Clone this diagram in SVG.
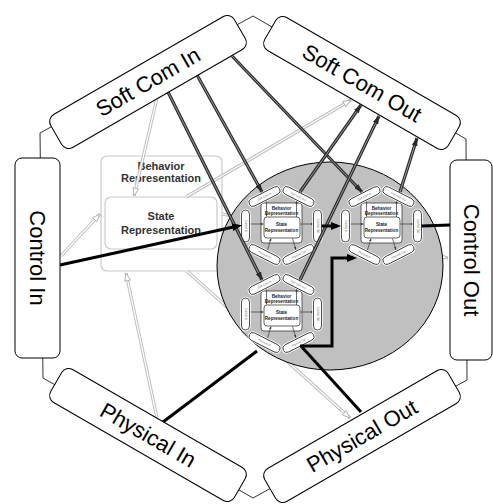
<svg xmlns="http://www.w3.org/2000/svg" width="493" height="504" viewBox="0 0 493 504">
<style>
  .hex{fill:none;stroke:#333;stroke-width:1}
  .box{fill:#fff;stroke:#000;stroke-width:1}
  .lbl{font-family:"Liberation Sans",Arial,sans-serif;font-size:22px;fill:#000;text-anchor:middle;dominant-baseline:central}
  .rep{fill:#fff;stroke:#cacaca;stroke-width:1.2}
  .reptxt{font-family:"Liberation Sans",Arial,sans-serif;font-size:11px;font-weight:bold;fill:#333;text-anchor:middle}
  .zone{fill:#c0c0c0;stroke:#000;stroke-width:1}
  .gw{fill:none;stroke:#bdbdbd;stroke-width:3.2}
  .gc{fill:none;stroke:#fff;stroke-width:1.2}
  .dw{fill:none;stroke:#2a2a2a;stroke-width:3.2}
  .dc{fill:none;stroke:#9a9a9a;stroke-width:1}
  .bk{fill:none;stroke:#000;stroke-width:3}
  .halo{fill:#fff;stroke:#fff;stroke-width:2.6}
  .pill{fill:#fff;stroke:#222;stroke-width:0.8}
  .mrep{fill:#fff;stroke:#222;stroke-width:0.7}
  .mtxt{font-family:"Liberation Sans",Arial,sans-serif;font-size:2.8px;fill:#666;text-anchor:middle;dominant-baseline:central}
  .mrt{font-family:"Liberation Sans",Arial,sans-serif;font-size:4.6px;font-weight:bold;fill:#222;text-anchor:middle}
  .marr{fill:none;stroke:#333;stroke-width:0.7}
</style>
<defs>
  <marker id="arrD" markerUnits="userSpaceOnUse" viewBox="0 0 8 6" markerWidth="8" markerHeight="6" refX="8" refY="3" orient="auto">
    <path d="M0,0 L8,3 L0,6 z" fill="#2a2a2a"/>
  </marker>
  <marker id="arrG" markerUnits="userSpaceOnUse" viewBox="0 0 9 7" markerWidth="9" markerHeight="7" refX="8.4" refY="3.5" orient="auto">
    <path d="M0.6,0.6 L8.4,3.5 L0.6,6.4 z" fill="#fff" stroke="#b0b0b0" stroke-width="0.9"/>
  </marker>
  <marker id="arrB" markerUnits="userSpaceOnUse" viewBox="0 0 10 8" markerWidth="10" markerHeight="8" refX="6" refY="4" orient="auto">
    <path d="M0,0 L10,4 L0,8 z" fill="#000"/>
  </marker>
  <marker id="am" markerUnits="userSpaceOnUse" viewBox="0 0 3 2.4" markerWidth="3" markerHeight="2.4" refX="3" refY="1.2" orient="auto">
    <path d="M0,0 L3,1.2 L0,2.4 z" fill="#333"/>
  </marker>
</defs>

<rect width="493" height="504" fill="#fff"/>

<!-- outer frame joining the six interface boxes -->
<polygon class="hex" points="253,16 466,139 467,380 253,498 43,378 40,133"/>

<!-- behaviour / state representation of the whole system -->
<g id="behavior-representation">
  <rect class="rep" x="101" y="156" width="121" height="115" rx="6"/>
  <text class="reptxt" x="161" y="169.5">Behavior</text>
  <text class="reptxt" x="161" y="182">Representation</text>
  <g id="state-representation">
    <rect class="rep" x="105" y="197" width="112" height="52" rx="6"/>
    <text class="reptxt" x="161" y="220">State</text>
    <text class="reptxt" x="161" y="233.5">Representation</text>
  </g>
</g>

<!-- light links of the top-level representation -->
<g id="connectors-representation">
  <path class="gw" d="M157,98 L134,196"/><path class="gc" d="M157,98 L134,196" marker-end="url(#arrG)"/>
  <path class="gw" d="M186,197 L351,100"/><path class="gc" d="M186,197 L351,100" marker-end="url(#arrG)"/>
  <path class="gw" d="M61,256 L100,214"/><path class="gc" d="M61,256 L100,214" marker-end="url(#arrG)"/>
  <path class="gw" d="M157,418 L126,273"/><path class="gc" d="M157,418 L126,273" marker-end="url(#arrG)"/>
  <path class="gw" d="M187,271 L350,418"/><path class="gc" d="M187,271 L350,418" marker-end="url(#arrG)"/>
  <path class="gw" d="M222,214 L448,258"/><path class="gc" d="M222,214 L448,258" marker-end="url(#arrG)"/>
</g>

<!-- composition zone -->
<ellipse id="composition" class="zone" cx="330" cy="266" rx="113" ry="104"/>

<!-- sub-system A -->
<g id="module-a" transform="translate(281.5,227)">
  <rect class="mrep" x="-20.5" y="-24" width="41" height="40" rx="3"/>
  <text class="mrt" y="-17">Behavior</text>
  <text class="mrt" y="-12">Representation</text>
  <rect class="mrep" x="-17.5" y="-10" width="36" height="21" rx="3"/>
  <text class="mrt" y="-1">State</text>
  <text class="mrt" y="4.5">Representation</text>
  <path class="marr" d="M-15,-27 V-10.5" marker-end="url(#am)"/>
  <path class="marr" d="M15,-10 V-26.5" marker-end="url(#am)"/>
  <path class="marr" d="M-32,-3 H-18" marker-end="url(#am)"/>
  <path class="marr" d="M18.5,-3 H32" marker-end="url(#am)"/>
  <path class="marr" d="M-14,23 L-10.5,11.5" marker-end="url(#am)"/>
  <path class="marr" d="M11,11.5 L14.5,23" marker-end="url(#am)"/>
  <g transform="translate(-17,-30.5) rotate(-27)"><rect class="halo" x="-17" y="-4" width="34" height="8" rx="4"/><rect class="pill" x="-17" y="-4" width="34" height="8" rx="4"/><text class="mtxt">Soft Com In</text></g>
  <g transform="translate(17,-30.5) rotate(27)"><rect class="halo" x="-17" y="-4" width="34" height="8" rx="4"/><rect class="pill" x="-17" y="-4" width="34" height="8" rx="4"/><text class="mtxt">Soft Com Out</text></g>
  <g transform="translate(-36,-1) rotate(90)"><rect class="halo" x="-16" y="-4" width="32" height="8" rx="4"/><rect class="pill" x="-16" y="-4" width="32" height="8" rx="4"/><text class="mtxt">Control In</text></g>
  <g transform="translate(36,-1) rotate(90)"><rect class="halo" x="-16" y="-4" width="32" height="8" rx="4"/><rect class="pill" x="-16" y="-4" width="32" height="8" rx="4"/><text class="mtxt">Control Out</text></g>
  <g transform="translate(-17,27.5) rotate(27)"><rect class="halo" x="-17" y="-4" width="34" height="8" rx="4"/><rect class="pill" x="-17" y="-4" width="34" height="8" rx="4"/><text class="mtxt">Physical In</text></g>
  <g transform="translate(17,27.5) rotate(-27)"><rect class="halo" x="-17" y="-4" width="34" height="8" rx="4"/><rect class="pill" x="-17" y="-4" width="34" height="8" rx="4"/><text class="mtxt">Physical Out</text></g>
</g>

<!-- sub-system B -->
<g id="module-b" transform="translate(381.5,227)">
  <rect class="mrep" x="-20.5" y="-24" width="41" height="40" rx="3"/>
  <text class="mrt" y="-17">Behavior</text>
  <text class="mrt" y="-12">Representation</text>
  <rect class="mrep" x="-17.5" y="-10" width="36" height="21" rx="3"/>
  <text class="mrt" y="-1">State</text>
  <text class="mrt" y="4.5">Representation</text>
  <path class="marr" d="M-15,-27 V-10.5" marker-end="url(#am)"/>
  <path class="marr" d="M15,-10 V-26.5" marker-end="url(#am)"/>
  <path class="marr" d="M-32,-3 H-18" marker-end="url(#am)"/>
  <path class="marr" d="M18.5,-3 H32" marker-end="url(#am)"/>
  <path class="marr" d="M-14,23 L-10.5,11.5" marker-end="url(#am)"/>
  <path class="marr" d="M11,11.5 L14.5,23" marker-end="url(#am)"/>
  <g transform="translate(-17,-30.5) rotate(-27)"><rect class="halo" x="-17" y="-4" width="34" height="8" rx="4"/><rect class="pill" x="-17" y="-4" width="34" height="8" rx="4"/><text class="mtxt">Soft Com In</text></g>
  <g transform="translate(17,-30.5) rotate(27)"><rect class="halo" x="-17" y="-4" width="34" height="8" rx="4"/><rect class="pill" x="-17" y="-4" width="34" height="8" rx="4"/><text class="mtxt">Soft Com Out</text></g>
  <g transform="translate(-36,-1) rotate(90)"><rect class="halo" x="-16" y="-4" width="32" height="8" rx="4"/><rect class="pill" x="-16" y="-4" width="32" height="8" rx="4"/><text class="mtxt">Control In</text></g>
  <g transform="translate(36,-1) rotate(90)"><rect class="halo" x="-16" y="-4" width="32" height="8" rx="4"/><rect class="pill" x="-16" y="-4" width="32" height="8" rx="4"/><text class="mtxt">Control Out</text></g>
  <g transform="translate(-17,27.5) rotate(27)"><rect class="halo" x="-17" y="-4" width="34" height="8" rx="4"/><rect class="pill" x="-17" y="-4" width="34" height="8" rx="4"/><text class="mtxt">Physical In</text></g>
  <g transform="translate(17,27.5) rotate(-27)"><rect class="halo" x="-17" y="-4" width="34" height="8" rx="4"/><rect class="pill" x="-17" y="-4" width="34" height="8" rx="4"/><text class="mtxt">Physical Out</text></g>
</g>

<!-- sub-system C -->
<g id="module-c" transform="translate(281.5,315)">
  <rect class="mrep" x="-20.5" y="-24" width="41" height="40" rx="3"/>
  <text class="mrt" y="-17">Behavior</text>
  <text class="mrt" y="-12">Representation</text>
  <rect class="mrep" x="-17.5" y="-10" width="36" height="21" rx="3"/>
  <text class="mrt" y="-1">State</text>
  <text class="mrt" y="4.5">Representation</text>
  <path class="marr" d="M-15,-27 V-10.5" marker-end="url(#am)"/>
  <path class="marr" d="M15,-10 V-26.5" marker-end="url(#am)"/>
  <path class="marr" d="M-32,-3 H-18" marker-end="url(#am)"/>
  <path class="marr" d="M18.5,-3 H32" marker-end="url(#am)"/>
  <path class="marr" d="M-14,23 L-10.5,11.5" marker-end="url(#am)"/>
  <path class="marr" d="M11,11.5 L14.5,23" marker-end="url(#am)"/>
  <g transform="translate(-17,-30.5) rotate(-27)"><rect class="halo" x="-17" y="-4" width="34" height="8" rx="4"/><rect class="pill" x="-17" y="-4" width="34" height="8" rx="4"/><text class="mtxt">Soft Com In</text></g>
  <g transform="translate(17,-30.5) rotate(27)"><rect class="halo" x="-17" y="-4" width="34" height="8" rx="4"/><rect class="pill" x="-17" y="-4" width="34" height="8" rx="4"/><text class="mtxt">Soft Com Out</text></g>
  <g transform="translate(-36,-1) rotate(90)"><rect class="halo" x="-16" y="-4" width="32" height="8" rx="4"/><rect class="pill" x="-16" y="-4" width="32" height="8" rx="4"/><text class="mtxt">Control In</text></g>
  <g transform="translate(36,-1) rotate(90)"><rect class="halo" x="-16" y="-4" width="32" height="8" rx="4"/><rect class="pill" x="-16" y="-4" width="32" height="8" rx="4"/><text class="mtxt">Control Out</text></g>
  <g transform="translate(-17,27.5) rotate(27)"><rect class="halo" x="-17" y="-4" width="34" height="8" rx="4"/><rect class="pill" x="-17" y="-4" width="34" height="8" rx="4"/><text class="mtxt">Physical In</text></g>
  <g transform="translate(17,27.5) rotate(-27)"><rect class="halo" x="-17" y="-4" width="34" height="8" rx="4"/><rect class="pill" x="-17" y="-4" width="34" height="8" rx="4"/><text class="mtxt">Physical Out</text></g>
</g>

<!-- message and signal links -->
<g id="connectors">
  <path class="dw" d="M168,92 L262,280"/><path class="dc" d="M168,92 L262,280" marker-end="url(#arrD)"/>
  <path class="dw" d="M197,75 L262,192"/><path class="dc" d="M197,75 L262,192" marker-end="url(#arrD)"/>
  <path class="dw" d="M232,56 L362,192"/><path class="dc" d="M232,56 L362,192" marker-end="url(#arrD)"/>
  <path class="dw" d="M300,192 L361,105"/><path class="dc" d="M300,192 L361,105" marker-end="url(#arrD)"/>
  <path class="dw" d="M300,280 L379,116"/><path class="dc" d="M300,280 L379,116" marker-end="url(#arrD)"/>
  <path class="dw" d="M400,192 L417,138"/><path class="dc" d="M400,192 L417,138" marker-end="url(#arrD)"/>

  <path class="bk" d="M60,265 L238,226" marker-end="url(#arrB)"/>
  <path class="bk" d="M321.5,226 L337,226" marker-end="url(#arrB)"/>
  <path class="bk" d="M421.5,226 L450,225" stroke-width="3.5"/>
  <path class="bk" d="M300,346 H332 V258 H353" stroke-width="2.2" marker-end="url(#arrB)"/>
  <path class="bk" d="M163,422 L257,351"/>
  <path class="bk" d="M301,346 L361,412"/>
</g>

<!-- interface boxes -->
<g id="soft-com-in" transform="translate(148,82) rotate(-30)">
  <rect class="box" x="-106" y="-19" width="212" height="38" rx="8"/>
  <text class="lbl">Soft Com In</text>
</g>
<g id="soft-com-out" transform="translate(362,83) rotate(30)">
  <rect class="box" x="-106" y="-19" width="212" height="38" rx="8"/>
  <text class="lbl">Soft Com Out</text>
</g>
<g id="control-in">
  <rect class="box" x="15" y="158" width="45" height="200" rx="7"/>
  <text class="lbl" transform="translate(37.5,258) rotate(90)">Control In</text>
</g>
<g id="control-out">
  <rect class="box" x="450" y="160" width="42" height="200" rx="7"/>
  <text class="lbl" transform="translate(471,260) rotate(90)">Control Out</text>
</g>
<g id="physical-in" transform="translate(148,435) rotate(30)">
  <rect class="box" x="-106" y="-19" width="212" height="38" rx="8"/>
  <text class="lbl">Physical In</text>
</g>
<g id="physical-out" transform="translate(362,436) rotate(-30)">
  <rect class="box" x="-106" y="-19" width="212" height="38" rx="8"/>
  <text class="lbl">Physical Out</text>
</g>
</svg>
